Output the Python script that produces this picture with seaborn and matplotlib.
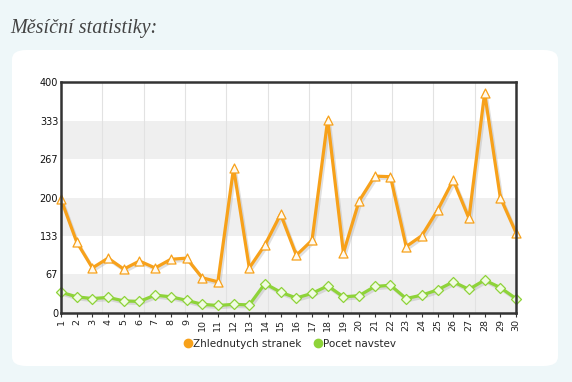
import numpy as np
import pandas as pd
import seaborn as sns
import matplotlib.pyplot as plt
import matplotlib.patheffects as pe
from matplotlib.patches import FancyBboxPatch
from matplotlib.lines import Line2D

# data
days = list(range(1, 31))
zhlednutych = [197, 123, 78, 95, 76, 90, 78, 93, 95, 61,
               54, 251, 78, 118, 171, 100, 126, 335, 104, 194,
               237, 236, 115, 134, 178, 230, 164, 381, 200, 139]
navstev = [36, 28, 25, 27, 21, 20, 31, 28, 22, 15,
           13, 15, 14, 51, 36, 26, 34, 47, 28, 30,
           46, 48, 25, 31, 40, 54, 41, 57, 44, 25]
y_ticks = [0, 67, 133, 200, 267, 333, 400]
labels = ["Zhlednutych stranek", "Pocet navstev"]

orange = "#f7a11a"
green = "#8ed339"

sns.set_theme(style="white")
plt.rcParams['font.family'] = ['DejaVu Sans']

df = pd.DataFrame({"den": days, "z": zhlednutych, "p": navstev})

fig = plt.figure(figsize=(5.72, 3.82), dpi=100)
fig.patch.set_facecolor("#eef7f9")

# white rounded panel
panel = FancyBboxPatch((12 / 572, 1 - 366 / 382), 546 / 572, 316 / 382,
                       boxstyle="round,pad=0,rounding_size=0.025",
                       transform=fig.transFigure, facecolor="white",
                       edgecolor="none", zorder=-5)
fig.patches.append(panel)

fig.text(10 / 572, 1 - 28 / 382, "Měsíční statistiky:", family="Liberation Serif",
         style="italic", fontsize=14.5, color="#444444", va="center")

ax = fig.add_axes([61 / 572, 1 - 313 / 382, 455 / 572, 231 / 382])
ax.set_facecolor("white")

# alternating bands
for i in range(0, len(y_ticks) - 1, 2):
    ax.axhspan(y_ticks[i], y_ticks[i + 1], color="#efefef", zorder=0, lw=0)
# vertical grid lines
for k in range(1, 11):
    ax.axvline(1 + k * 29 / 11, color="#e2e2e2", lw=0.8, zorder=0.5)

shadow = [pe.SimpleLineShadow(offset=(1.2, -1.5), shadow_color="#999999", alpha=0.3), pe.Normal()]

# lines with shadow
sns.lineplot(data=df, x="den", y="z", ax=ax, color=orange, lw=2.3,
             path_effects=shadow, zorder=3)
sns.lineplot(data=df, x="den", y="p", ax=ax, color=green, lw=2.3,
             path_effects=shadow, zorder=3)
# markers on top
sns.scatterplot(data=df, x="den", y="z", ax=ax, marker="^", s=42,
                facecolor="#fffaf0", edgecolor=orange, linewidth=0.9,
                zorder=4, clip_on=False)
sns.scatterplot(data=df, x="den", y="p", ax=ax, marker="D", s=26,
                facecolor="#f0fbe2", edgecolor=green, linewidth=0.9,
                zorder=4, clip_on=False)

ax.set_xlim(1, 30)
ax.set_ylim(0, 400)
ax.set_xticks(days)
ax.set_xticklabels([str(d) for d in days], rotation=90, fontsize=6.8, color="#222222")
ax.set_yticks(y_ticks)
ax.set_yticklabels([str(v) for v in y_ticks], fontsize=7, color="#111111")
ax.tick_params(axis="x", length=3, width=0.8, color="#333333", pad=1, bottom=True)
ax.tick_params(axis="y", length=0, pad=2)
ax.set_xlabel("")
ax.set_ylabel("")
for s in ax.spines.values():
    s.set_visible(True)
    s.set_color("#333333")
    s.set_linewidth(1.8)
    s.set_zorder(5)

handles = [Line2D([], [], marker="o", color="none", markerfacecolor=orange,
                  markeredgecolor=orange, markersize=6),
           Line2D([], [], marker="o", color="none", markerfacecolor=green,
                  markeredgecolor=green, markersize=6)]
fig.legend(handles, labels, loc="center", bbox_to_anchor=(290 / 572, 1 - 344 / 382),
           ncol=2, frameon=False, fontsize=7.5, handletextpad=0.1, columnspacing=1.2,
           handlelength=0.8)

fig.savefig("out.png", dpi=100, facecolor=fig.get_facecolor())
